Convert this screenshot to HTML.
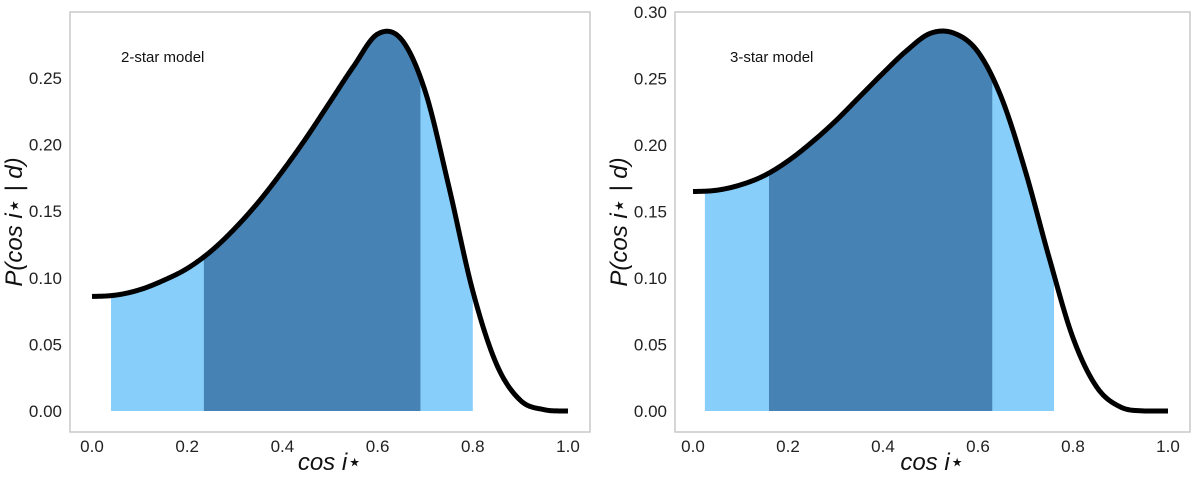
<!DOCTYPE html>
<html><head><meta charset="utf-8"><style>
body{margin:0;background:#fff;}
svg text{font-family:"Liberation Sans","DejaVu Sans",sans-serif;}
</style></head><body>
<svg id="c" width="1200" height="475"></svg>
<script>
const xsL=[0,0.05,0.1,0.15,0.2,0.25,0.3,0.35,0.4,0.45,0.5,0.55,0.6,0.65,0.7,0.75,0.8,0.85,0.9,0.95,1.0];
const ysL=[0.086,0.087,0.091,0.098,0.107,0.12,0.137,0.157,0.18,0.205,0.232,0.259,0.283,0.279,0.24,0.168,0.09,0.035,0.008,0.001,0];
const xsR=[0,0.05,0.1,0.15,0.2,0.25,0.3,0.35,0.4,0.45,0.5,0.55,0.6,0.65,0.7,0.75,0.8,0.85,0.9,0.95,1.0];
const ysR=[0.165,0.166,0.17,0.177,0.188,0.202,0.218,0.236,0.254,0.271,0.284,0.284,0.27,0.235,0.18,0.115,0.055,0.018,0.003,0,0];
const bandL=[0.04,0.235,0.69,0.80];
const bandR=[0.025,0.16,0.63,0.76];
const yTicksL=["0.00","0.05","0.10","0.15","0.20","0.25"];
const yTicksR=["0.00","0.05","0.10","0.15","0.20","0.25","0.30"];
const xTicks=["0.0","0.2","0.4","0.6","0.8","1.0"];
const NS="http://www.w3.org/2000/svg";
const svg=document.getElementById('c');
function el(t,a,p){const e=document.createElementNS(NS,t);for(const k in a)e.setAttribute(k,a[k]);(p||svg).appendChild(e);return e;}
function interp(xs,ys,x){
  let i=0;while(i<xs.length-2&&x>xs[i+1])i++;
  const x0=xs[i],x1=xs[i+1],t=(x-x0)/(x1-x0);
  const p0=ys[Math.max(i-1,0)],p1=ys[i],p2=ys[i+1],p3=ys[Math.min(i+2,ys.length-1)];
  const t2=t*t,t3=t2*t;
  return 0.5*((2*p1)+(-p0+p2)*t+(2*p0-5*p1+4*p2-p3)*t2+(-p0+3*p1-3*p2+p3)*t3);
}
function panel(o){
  const g=el('g',{});
  
  
  const sx=v=>o.x0+(o.x1-o.x0)*v, sy=v=>o.y0-o.k*v;
  const fr=el('rect',{x:o.fl,y:o.ft,width:o.fr-o.fl,height:o.fb-o.ft,fill:'none',stroke:'#c8c8c8','stroke-width':1.5},g);
  
  function area(a,b,col,name){
    let d=`M${sx(a)},${sy(0)}`;
    for(let i=0;i<=200;i++){const x=a+(b-a)*i/200;d+=`L${sx(x)},${sy(interp(o.xs,o.ys,x))}`;}
    d+=`L${sx(b)},${sy(0)}Z`;
    const p=el('path',{d,fill:col},g);
    
  }
  area(o.band[0],o.band[3],'#87cefa','credible-interval-outer');
  area(o.band[1],o.band[2],'#4682b4','credible-interval-inner');
  let d='';
  for(let i=0;i<=400;i++){const x=i/400;d+=(i?'L':'M')+sx(x)+','+sy(Math.max(interp(o.xs,o.ys,x),0));}
  const ln=el('path',{d,fill:'none',stroke:'#000','stroke-width':5,'stroke-linejoin':'round'},g);
  
  o.yt.forEach(t=>{const tx=el('text',{x:o.fl-8,y:sy(+t)+6,'text-anchor':'end','font-size':17,fill:'#222'},g);tx.textContent=t;
    });
  xTicks.forEach(t=>{const tx=el('text',{x:sx(+t),y:o.fb+20,'text-anchor':'middle','font-size':17,fill:'#222'},g);tx.textContent=t;
    });
  const xl=el('text',{x:(o.fl+o.fr)/2,y:470,'text-anchor':'middle','font-size':24,'font-style':'italic',fill:'#111'},g);
  xl.textContent='cos i⋆';
  const yl=el('text',{x:0,y:0,'text-anchor':'middle','font-size':24,'font-style':'italic',fill:'#111',transform:`translate(${o.fl-48},${(o.ft+o.fb)/2}) rotate(-90)`},g);
  yl.textContent='P(cos i⋆ | d)';
  const an=el('text',{x:o.ax,y:62,'font-size':15,fill:'#111'},g);
  an.textContent=o.label;
}
panel({name:'panel-2-star',xs:xsL,ys:ysL,band:bandL,yt:yTicksL,x0:92,x1:568,y0:411,k:1332,fl:70,ft:12,fr:590,fb:432,ax:121,label:'2-star model'});
panel({name:'panel-3-star',xs:xsR,ys:ysR,band:bandR,yt:yTicksR,x0:693,x1:1168,y0:411,k:1330,fl:675,ft:12,fr:1190,fb:432,ax:730,label:'3-star model'});
</script>
</body></html>
